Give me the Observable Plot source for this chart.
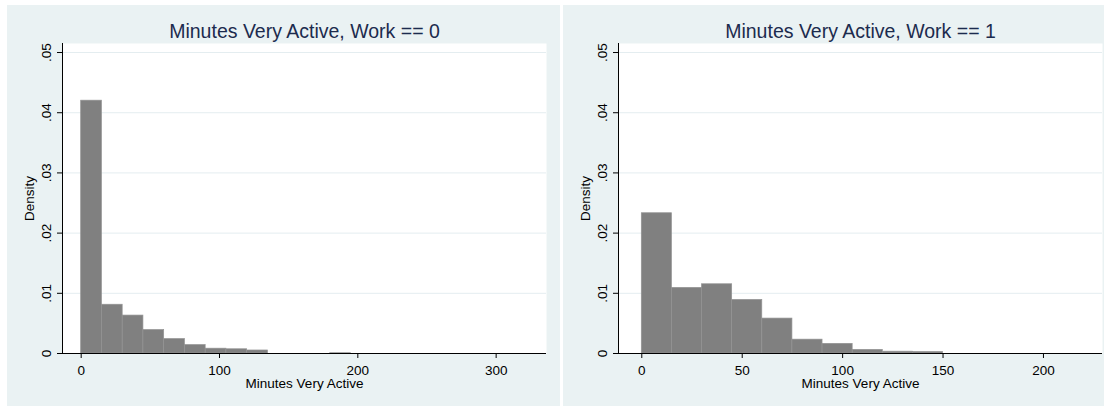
<!DOCTYPE html>
<html><head><meta charset="utf-8">
<script src="https://cdn.jsdelivr.net/npm/d3@7"></script>
<script src="https://cdn.jsdelivr.net/npm/@observablehq/plot@0.6"></script>
<style>
html,body{margin:0;padding:0;background:#fff;}
#wrap{position:relative;width:1104px;height:407px;overflow:hidden;background:#fff;}
.panel{position:absolute;top:5px;width:553px;height:401px;background:#eaf2f3;}
.panel svg{display:block;}
</style></head><body><div id="wrap"></div>
<script>
// ---- data ----
const binWidth = 15;
const work0BinStarts = [0,15,30,45,60,75,90,105,120,135,150,165,180,195,210,225,240,255,270,285,300];
const work0Density   = [0.0420,0.0081,0.0063,0.0039,0.0024,0.0014,0.0008,0.0007,0.0005,0,0,0,0.00005,0,0,0,0,0,0,0,0];
const work1BinStarts = [0,15,30,45,60,75,90,105,120,135,150,165,180,195];
const work1Density   = [0.0233,0.0109,0.0115,0.0089,0.0058,0.0023,0.0016,0.0006,0.0003,0.00025,0,0,0,0];
const work0Ticks = [0,100,200,300];
const work1Ticks = [0,50,100,150,200];
const densityTicks = [0,0.01,0.02,0.03,0.04,0.05];
const panelTitles = ["Minutes Very Active, Work == 0","Minutes Very Active, Work == 1"];
const xLabel = "Minutes Very Active";
const yLabel = "Density";

const FONT = "Liberation Sans, Arial, Helvetica, sans-serif";
const fmtY = d => d === 0 ? "0" : d3.format(".2f")(d).replace(/^0/, "");

function panel(starts, dens, ticks, xDomain, title) {
  const rows = starts.map((s, i) => ({x1: s, x2: s + binWidth, y: dens[i]})).filter(r => r.y > 0);
  return Plot.plot({
    width: 553, height: 401,
    marginLeft: 55, marginRight: 14, marginTop: 38, marginBottom: 53,
    style: {background: "transparent", fontFamily: FONT, color: "#000", overflow: "visible"},
    x: {domain: xDomain},
    y: {domain: [0, 0.0515]},
    marks: [
      Plot.frame({fill: "white", stroke: null}),
      Plot.gridY(densityTicks.filter(d => d > 0), {stroke: "#e4edf0", strokeOpacity: 1, strokeWidth: 1}),
      Plot.rectY(rows, {x1: "x1", x2: "x2", y: "y", fill: "#808080", stroke: "#939393", strokeWidth: 0.7, inset: 0}),
      Plot.ruleX([xDomain[0]], {stroke: "#000", strokeWidth: 1}),
      Plot.ruleY([0], {stroke: "#000", strokeWidth: 1}),
      Plot.axisY(densityTicks, {tickSize: 5, tickRotate: -90, tickPadding: 6.5, tickFormat: fmtY, fontSize: 13.5, label: null, stroke: "#000"}),
      Plot.axisX(ticks, {tickSize: 5, tickPadding: 6.5, tickFormat: d => String(d), fontSize: 13.5, label: null, stroke: "#000"}),
      Plot.text([title], {text: d => d, frameAnchor: "top", textAnchor: "middle", lineAnchor: "bottom", dy: -5.7, fontSize: 19.5, fill: "#1c2b4e"}),
      Plot.text([xLabel], {text: d => d, frameAnchor: "bottom", textAnchor: "middle", lineAnchor: "bottom", dy: 34.3, fontSize: 13.5, fill: "#000"}),
      Plot.text([yLabel], {text: d => d, frameAnchor: "left", textAnchor: "middle", lineAnchor: "bottom", rotate: -90, dx: -29, fontSize: 13.5, fill: "#000"})
    ]
  });
}

const wrap = document.getElementById("wrap");
const p1 = document.createElement("div"); p1.className = "panel"; p1.style.left = "7px";
const p2 = document.createElement("div"); p2.className = "panel"; p2.style.left = "563px";
p1.appendChild(panel(work0BinStarts, work0Density, work0Ticks, [-13.5, 336.4], panelTitles[0]));
p2.appendChild(panel(work1BinStarts, work1Density, work1Ticks, [-11.6, 229.4], panelTitles[1]));
wrap.appendChild(p1); wrap.appendChild(p2);
</script></body></html>
